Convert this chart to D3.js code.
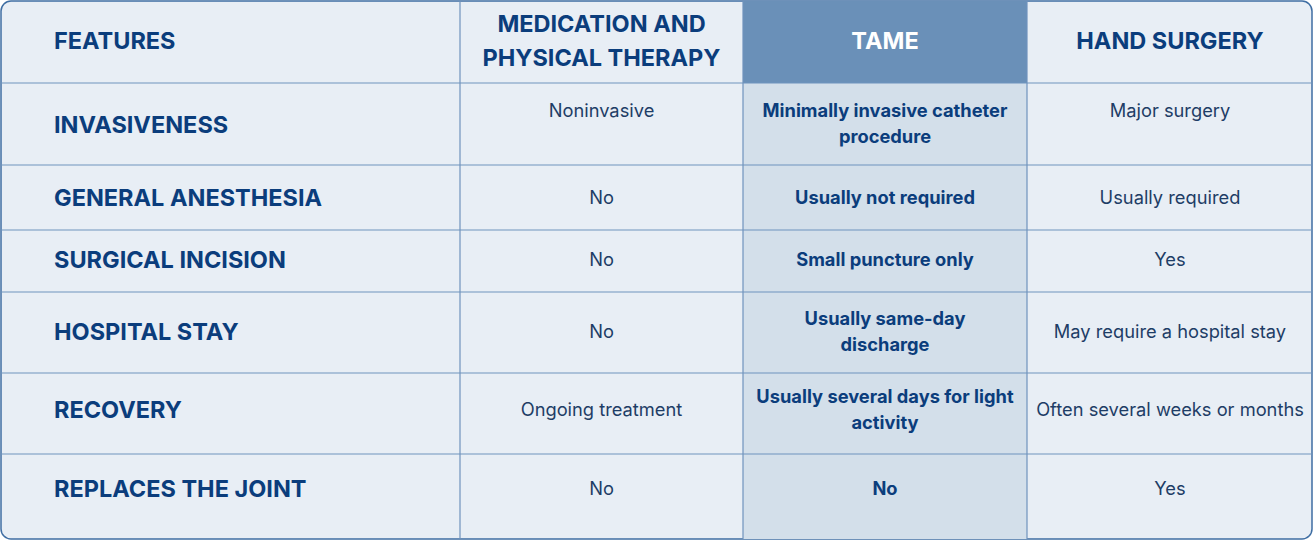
<!DOCTYPE html><html><head><meta charset="utf-8">
<script src="https://cdn.jsdelivr.net/npm/d3@7"></script>
<style>body{margin:0;background:#fff}text{font-family:Inter,sans-serif}</style></head><body>
<svg id="c" width="1313" height="540"></svg>
<script>
const headers = ["FEATURES", "MEDICATION AND\nPHYSICAL THERAPY", "TAME", "HAND SURGERY"];
const features = ["INVASIVENESS","GENERAL ANESTHESIA","SURGICAL INCISION","HOSPITAL STAY","RECOVERY","REPLACES THE JOINT"];
const medication = ["Noninvasive","No","No","No","Ongoing treatment","No"];
const tame = ["Minimally invasive catheter\nprocedure","Usually not required","Small puncture only","Usually same-day\ndischarge","Usually several days for light\nactivity","No"];
const surgery = ["Major surgery","Usually required","Yes","May require a hospital stay","Often several weeks or months","Yes"];
const colEdges = [0,460,743,1027,1313];
const rowEdges = [0,83,165,230,292,373,454,540];

const svg = d3.select("#c");
const W=1313,H=540, ink="#0b3d7c", line="#6f93bd";
svg.append("rect").attr("x",1).attr("y",1).attr("width",W-2).attr("height",H-2).attr("rx",10).attr("fill","#e8eef5").attr("stroke","#3f6ea3").attr("stroke-width",1.5);
svg.append("rect").attr("x",colEdges[2]).attr("y",rowEdges[0]+1).attr("width",colEdges[3]-colEdges[2]).attr("height",rowEdges[1]-1).attr("fill","#6a90b8");
svg.append("rect").attr("x",colEdges[2]).attr("y",rowEdges[1]).attr("width",colEdges[3]-colEdges[2]).attr("height",H-1-rowEdges[1]).attr("fill","#d3dfea");
rowEdges.slice(1,-1).forEach(y=>svg.append("line").attr("x1",1).attr("x2",W-1).attr("y1",y).attr("y2",y).attr("stroke",line).attr("stroke-width",1.2));
colEdges.slice(1,-1).forEach(x=>svg.append("line").attr("x1",x).attr("x2",x).attr("y1",1).attr("y2",H-1).attr("stroke",line).attr("stroke-width",1.2));

function txt(s,x,y,anchor,size,weight,fill,lh){
  const parts=s.split("\n"); const t=svg.append("text").attr("x",x).attr("text-anchor",anchor).attr("font-size",size).attr("font-weight",weight).attr("fill",fill);
  const y0=y-(parts.length-1)*lh/2;
  parts.forEach((p,i)=>t.append("tspan").attr("x",x).attr("y",y0+i*lh).attr("dy","0.35em").text(p));
}
const cx=i=>(colEdges[i]+colEdges[i+1])/2;
txt(headers[0],54,41,"start",23.5,700,ink,34);
txt(headers[1],cx(1),41,"middle",23.5,700,ink,34);
txt(headers[2],cx(2),41,"middle",23.5,700,"#fff",34);
txt(headers[3],cx(3),41,"middle",23.5,700,ink,34);
const shift=[0,0,-1,-1,-4,-8];
features.forEach((f,r)=>{
  const y0=rowEdges[r+1], y1=rowEdges[r+2], mid=(y0+y1)/2+shift[r];
  txt(f,54,mid+(r===0?1:0),"start",23.5,700,ink,26);
  const first = r===0 ? y0+28 : mid;
  txt(medication[r],cx(1),first,"middle",18.3,400,"#1e3d66",26);
  txt(tame[r],cx(2),r===0?y0+41:mid,"middle",18.3,700,ink,26);
  txt(surgery[r],cx(3),first,"middle",18.3,400,"#1e3d66",26);
});
</script></body></html>
